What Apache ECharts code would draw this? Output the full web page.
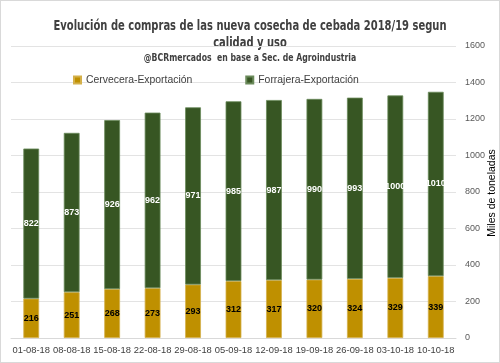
<!DOCTYPE html>
<html><head><meta charset="utf-8">
<script src="https://cdn.jsdelivr.net/npm/echarts@6/dist/echarts.min.js"></script>
<style>html,body{margin:0;padding:0;background:#fff}#c{width:498px;height:361px;border:1px solid #d9d9d9}</style>
</head><body><div id="c"></div>
<script>
const categories = ['01-08-18','08-08-18','15-08-18','22-08-18','29-08-18','05-09-18','12-09-18','19-09-18','26-09-18','03-10-18','10-10-18'];
const cervecera = [216,251,268,273,293,312,317,320,324,329,339];
const forrajera = [822,873,926,962,971,985,987,990,993,1000,1010];
const yTicks = [0,200,400,600,800,1000,1200,1400,1600];
const titleLines = ['Evolución de compras de las nueva cosecha de cebada 2018/19 segun','calidad y uso'];
const subtitle = '@BCRmercados  en base a Sec. de Agroindustria';
const yAxisName = 'Miles de toneladas';

const chart = echarts.init(document.getElementById('c'));
const tstyle = (text, size) => ({text, fill:'#404040', font:'bold '+size+'px "DejaVu Sans Condensed"', textAlign:'center', textVerticalAlign:'middle'});
chart.setOption({
  animation:false,
  graphic:[
    {type:'text', x:249, y:25, scaleX:0.82, style:tstyle(titleLines[0],13.5)},
    {type:'text', x:249, y:42, scaleX:0.82, style:tstyle(titleLines[1],13.5)},
    {type:'text', x:249, y:57.5, scaleX:0.82, style:tstyle(subtitle,10.5)},
    {type:'text', x:491, y:192, rotation:Math.PI/2,
     style:{text:yAxisName, fill:'#000', font:'10.5px "Liberation Sans"', textAlign:'center', textVerticalAlign:'middle'}}
  ],
  legend:{top:69, left:67, itemWidth:7, itemHeight:7, itemGap:53, icon:'rect',
    textStyle:{fontFamily:'Liberation Sans', fontSize:10.4, color:'#404040'},
    data:['Cervecera-Exportación','Forrajera-Exportación']},
  grid:{left:10, right:43, top:45, bottom:24, containLabel:false, outerBoundsMode:'none'},
  xAxis:{type:'category', data:categories,
    axisLine:{lineStyle:{color:'#d9d9d9'}}, axisTick:{show:false},
    axisLabel:{color:'#404040', fontFamily:'Liberation Sans', fontSize:9.4, margin:8, interval:0}},
  yAxis:{type:'value', position:'right', min:0, max:1600, interval:200,
    axisLine:{show:false}, axisTick:{show:false},
    axisLabel:{color:'#595959', fontFamily:'Liberation Sans', fontSize:9, margin:9,
      formatter:v=>yTicks.includes(v)?String(v):''},
    splitLine:{lineStyle:{color:'#e3e3e3'}}},
  series:[
    {name:'Cervecera-Exportación', type:'bar', stack:'a', data:cervecera, barWidth:'39%',
     itemStyle:{color:'#BF9000', borderColor:'#d4b04a', borderWidth:0.8},
     label:{show:true, position:'inside', color:'#000', fontWeight:'bold', fontFamily:'Liberation Sans', fontSize:9}},
    {name:'Forrajera-Exportación', type:'bar', stack:'a', data:forrajera, barWidth:'39%',
     itemStyle:{color:'#375623', borderColor:'#6a8a5a', borderWidth:0.8},
     label:{show:true, position:'inside', color:'#fff', fontWeight:'bold', fontFamily:'Liberation Sans', fontSize:9}}
  ]
});
</script></body></html>
